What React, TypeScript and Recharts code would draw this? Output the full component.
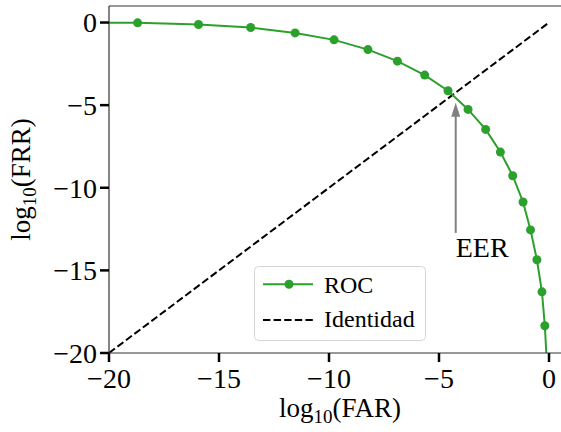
import React from 'react';
import { ComposedChart, Line, XAxis, YAxis, ReferenceLine, ReferenceDot, Legend } from 'recharts';

// ROC curve (log10 FAR, log10 FRR)
const rocFar = [-22.0, -18.7, -15.93, -13.56, -11.54, -9.77, -8.23, -6.89, -5.65, -4.59, -3.68, -2.88, -2.21, -1.65, -1.18, -0.84, -0.55, -0.32, -0.19, -0.08];
const rocFrr = [0.0, -0.02, -0.12, -0.3, -0.63, -1.05, -1.64, -2.34, -3.18, -4.13, -5.26, -6.47, -7.84, -9.27, -10.86, -12.55, -14.36, -16.3, -18.35, -21.0];
// identity line
const idX = [-20, 0];
const idY = [-20, 0];
// ticks
const xTicks = [-20, -15, -10, -5, 0];
const yTicks = [-20, -15, -10, -5, 0];
// EER annotation
const eerX = -4.24;
const eerTipY = -4.85;
const eerShaftTop = -5.6;
const eerShaftBottom = -12.73;
const eerTextY = -14.18;
const eerLabel = 'EER';

const rocData = rocFar.map((x, i) => ({ x, y: rocFrr[i] }));
const idData = idX.map((x, i) => ({ x, y: idY[i] }));

const FONT = 'Liberation Serif, DejaVu Serif, serif';
const GREEN = '#2ca02c';

const fmt = (v: number) => (v < 0 ? '\u2212' + Math.abs(v) : String(v));

const W = 575;
const H = 432;
const PL = 109;
const PT = 6;
const PR = 571;
const PB = 353;

const XLabel = (props: any) => {
  const vb = props.viewBox || {};
  const x0 = vb.x ?? PL;
  const w = vb.width ?? PR - PL;
  const cx = x0 + w / 2;
  return (
    <text x={cx} y={417} textAnchor="middle" style={{ fontFamily: FONT }} fontSize={27} fill="#000">
      <tspan>log</tspan>
      <tspan fontSize={19} dy={6}>10</tspan>
      <tspan dy={-6}>(FAR)</tspan>
    </text>
  );
};

const YLabel = (props: any) => {
  const vb = props.viewBox || {};
  const y0 = vb.y ?? PT;
  const h = vb.height ?? PB - PT;
  const cy = y0 + h / 2;
  const bx = 30;
  return (
    <text x={bx} y={cy} transform={`rotate(-90 ${bx} ${cy})`} textAnchor="middle" style={{ fontFamily: FONT }} fontSize={27} fill="#000">
      <tspan>log</tspan>
      <tspan fontSize={19} dy={6}>10</tspan>
      <tspan dy={-6}>(FRR)</tspan>
    </text>
  );
};

const LegendBox = () => (
  <svg width={172} height={75} style={{ display: 'block' }}>
    <rect x={0.5} y={0.5} width={171} height={74} rx={4} ry={4} fill="rgba(255,255,255,0.8)" stroke="#d6d6d6" strokeWidth={1} />
    <line x1={9} y1={18.3} x2={59} y2={18.3} stroke={GREEN} strokeWidth={2} />
    <circle cx={35} cy={18.3} r={4.5} fill={GREEN} />
    <text x={70} y={27.3} style={{ fontFamily: FONT }} fontSize={24} fill="#000">ROC</text>
    <line x1={9} y1={54} x2={59} y2={54} stroke="#000" strokeWidth={2} strokeDasharray="7.4 3.2" />
    <text x={70} y={60.7} style={{ fontFamily: FONT }} fontSize={24} fill="#000">Identidad</text>
  </svg>
);

const ArrowHead = (props: any) => {
  const { cx, cy } = props;
  if (cx == null || cy == null) return null;
  return <polygon points={`${cx},${cy} ${cx - 4.5},${cy + 14} ${cx + 4.5},${cy + 14}`} fill="#808080" />;
};

const EerText = (props: any) => {
  const { cx, cy } = props;
  if (cx == null || cy == null) return null;
  return (
    <text x={cx} y={cy} style={{ fontFamily: FONT }} fontSize={28} fill="#000">{eerLabel}</text>
  );
};

const tickStyle = { fontFamily: FONT, fontSize: 28, fill: '#000', style: { fontFamily: FONT } };

export default function App() {
  return (
    <div style={{ position: 'absolute', left: 0, top: 0, width: 561, height: 432, overflow: 'hidden', background: '#fff', fontFamily: FONT }}>
      <ComposedChart width={W} height={H} margin={{ top: PT, right: W - PR, left: 0, bottom: 0 }} style={{ fontFamily: FONT }}>
        <XAxis
          type="number"
          dataKey="x"
          domain={[-20, 1]}
          allowDataOverflow
          ticks={xTicks}
          tickFormatter={fmt}
          height={H - PB}
          tickSize={9}
          tickMargin={6}
          axisLine={{ stroke: '#333', strokeWidth: 1.2 }}
          tickLine={{ stroke: '#000', strokeWidth: 2.5 }}
          tick={tickStyle}
          label={{ content: XLabel } as any}
        />
        <YAxis
          type="number"
          dataKey="y"
          domain={[-20, 1]}
          allowDataOverflow
          ticks={yTicks}
          tickFormatter={fmt}
          width={PL}
          tickSize={9}
          tickMargin={3}
          axisLine={{ stroke: '#333', strokeWidth: 1.2 }}
          tickLine={{ stroke: '#000', strokeWidth: 2.5 }}
          tick={tickStyle}
          label={{ content: YLabel } as any}
        />
        <ReferenceLine y={1} stroke="#333" strokeWidth={1.2} />
        <ReferenceLine x={1} stroke="#333" strokeWidth={1.2} />
        <Line
          data={idData}
          dataKey="y"
          type="linear"
          stroke="#000"
          strokeWidth={2}
          strokeDasharray="7.4 3.2"
          dot={false}
          isAnimationActive={false}
          legendType="none"
        />
        <Line
          data={rocData}
          dataKey="y"
          type="linear"
          stroke={GREEN}
          strokeWidth={2}
          dot={{ r: 4.5, fill: GREEN, stroke: GREEN, strokeWidth: 0 }}
          activeDot={false}
          isAnimationActive={false}
        />
        <ReferenceLine
          segment={[{ x: eerX, y: eerShaftBottom }, { x: eerX, y: eerShaftTop }]}
          stroke="#808080"
          strokeWidth={2}
        />
        <ReferenceDot x={eerX} y={eerTipY} r={5} shape={ArrowHead} />
        <ReferenceDot x={eerX} y={eerTextY} r={1} shape={EerText} />
        <Legend
          layout="vertical"
          align="center"
          verticalAlign="middle"
          wrapperStyle={{ left: 254, top: 266, width: 172, height: 75 }}
          content={() => <LegendBox />}
        />
      </ComposedChart>
    </div>
  );
}
